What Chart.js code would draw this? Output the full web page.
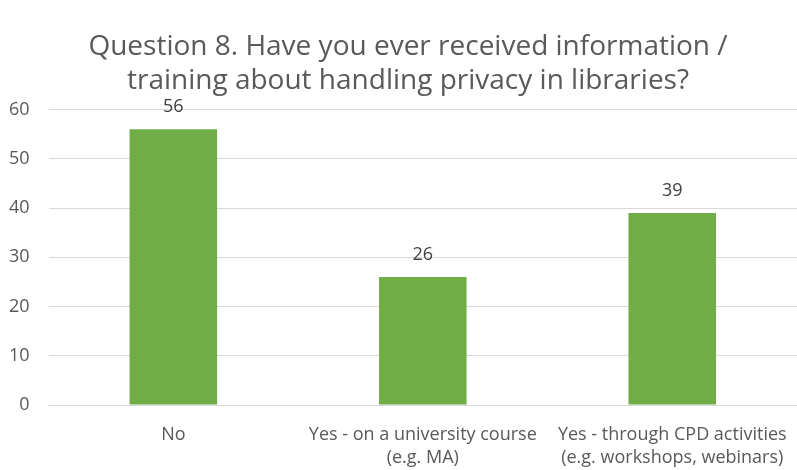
<!DOCTYPE html>
<html>
<head>
<meta charset="utf-8">
<script src="https://cdn.jsdelivr.net/npm/chart.js@4"></script>
<style>
  html, body { margin: 0; padding: 0; background: #fff; }
  #wrap { width: 797px; height: 470px; }
</style>
</head>
<body>
<div id="wrap"><canvas id="chart" width="797" height="470"></canvas></div>
<script>
// данные графика
const categories = [
    ['No'],
    ['Yes - on a university course', '(e.g. MA)'],
    ['Yes - through CPD activities', '(e.g. workshops, webinars)']
];
const responses = [56, 26, 39];
const yTicks = [0, 10, 20, 30, 40, 50, 60];
const chartTitle = ['Question 8. Have you ever received information /', 'training about handling privacy in libraries?'];

const FONT = '"Open Sans", sans-serif';

// подписи значений над столбцами
const valueLabels = {
    id: 'valueLabels',
    afterLayout(chart) {
        // заголовок в оригинале чуть смещён вправо
        if (chart.titleBlock) {
            chart.titleBlock.left += 15;
        }
    },
    afterDatasetsDraw(chart) {
        const ctx = chart.ctx;
        const meta = chart.getDatasetMeta(0);
        ctx.save();
        ctx.font = '18px ' + FONT;
        ctx.fillStyle = '#404040';
        ctx.textAlign = 'center';
        ctx.textBaseline = 'middle';
        meta.data.forEach((bar, i) => {
            ctx.fillText(String(responses[i]), bar.x, bar.y - 22);
        });
        ctx.restore();
    }
};

const ctx = document.getElementById('chart').getContext('2d');
new Chart(ctx, {
    type: 'bar',
    data: {
        labels: categories,
        datasets: [{
            data: responses,
            backgroundColor: '#70ad47',
            borderWidth: 0,
            categoryPercentage: 1,
            barPercentage: 0.351
        }]
    },
    plugins: [valueLabels],
    options: {
        responsive: false,
        animation: false,
        layout: { padding: { left: 0, right: -4, top: 0, bottom: 0 } },
        scales: {
            x: {
                grid: { display: false },
                border: { color: '#d9d9d9', width: 1 },
                ticks: {
                    color: '#595959',
                    font: { family: FONT, size: 18, lineHeight: 1.28 },
                    padding: 10,
                    maxRotation: 0,
                    autoSkip: false
                },
                afterFit(scale) { scale.height = 65; }
            },
            y: {
                min: 0,
                max: 60,
                afterBuildTicks(scale) { scale.ticks = yTicks.map(v => ({ value: v })); },
                grid: { color: '#d9d9d9', lineWidth: 1, drawTicks: false },
                border: { display: false },
                ticks: {
                    color: '#595959',
                    font: { family: FONT, size: 18 },
                    padding: 19
                },
                afterFit(scale) { scale.width = 48.6; }
            }
        },
        plugins: {
            legend: { display: false },
            tooltip: { enabled: false },
            title: {
                display: true,
                text: chartTitle,
                color: '#595959',
                font: { family: FONT, size: 28, weight: 'normal', lineHeight: 1.18 },
                padding: { top: 31, bottom: 12.5 }
            }
        }
    }
});
</script>
</body>
</html>
